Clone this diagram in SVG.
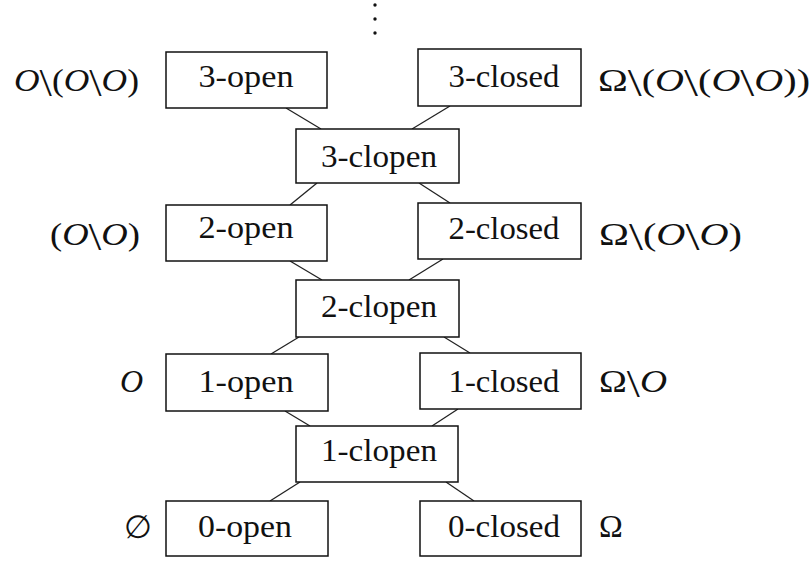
<svg xmlns="http://www.w3.org/2000/svg" width="812" height="561" viewBox="0 0 812 561">
<style>
.box{fill:#fff;stroke:#111;stroke-width:1.5}
.lbl{font-family:"Liberation Serif",serif;font-size:31px;fill:#111;text-anchor:middle}
.m{font-family:"Liberation Serif",serif;font-size:32px;fill:#111}
.i{font-style:italic}
.b{font-size:40px;baseline-shift:-5px}
#connectors line{stroke:#222;stroke-width:1.3}
</style>
<rect width="812" height="561" fill="#fff"/>
<g id="dots" fill="#111">
<circle cx="375" cy="5" r="1.7"/><circle cx="375" cy="19" r="1.7"/><circle cx="375" cy="33" r="1.7"/>
</g>
<g id="connectors">
<line x1="286" y1="108" x2="321" y2="129"/>
<line x1="450" y1="106" x2="412" y2="129"/>
<line x1="317" y1="183" x2="290" y2="205"/>
<line x1="419" y1="183" x2="450" y2="203"/>
<line x1="290" y1="261" x2="322" y2="280"/>
<line x1="443" y1="259" x2="409" y2="280"/>
<line x1="299" y1="337" x2="271" y2="354"/>
<line x1="444" y1="337" x2="470" y2="353"/>
<line x1="285" y1="411" x2="310" y2="426"/>
<line x1="458" y1="409" x2="432" y2="426"/>
<line x1="300" y1="482" x2="270" y2="501"/>
<line x1="446" y1="482" x2="474" y2="501"/>
</g>
<g id="n3open"><rect class="box" x="166" y="52" width="161" height="56"/><text class="lbl" x="246" y="87" textLength="95" lengthAdjust="spacingAndGlyphs">3-open</text></g>
<g id="n3closed"><rect class="box" x="418" y="49" width="163" height="57"/><text class="lbl" x="504" y="87" textLength="111" lengthAdjust="spacingAndGlyphs">3-closed</text></g>
<g id="n3clopen"><rect class="box" x="296" y="129" width="163" height="54"/><text class="lbl" x="379" y="167" textLength="116" lengthAdjust="spacingAndGlyphs">3-clopen</text></g>
<g id="n2open"><rect class="box" x="166" y="205" width="161" height="56"/><text class="lbl" x="246" y="238" textLength="95" lengthAdjust="spacingAndGlyphs">2-open</text></g>
<g id="n2closed"><rect class="box" x="418" y="203" width="163" height="56"/><text class="lbl" x="504" y="239" textLength="111" lengthAdjust="spacingAndGlyphs">2-closed</text></g>
<g id="n2clopen"><rect class="box" x="296" y="280" width="163" height="57"/><text class="lbl" x="379" y="317" textLength="116" lengthAdjust="spacingAndGlyphs">2-clopen</text></g>
<g id="n1open"><rect class="box" x="166" y="354" width="162" height="57"/><text class="lbl" x="246" y="392" textLength="95" lengthAdjust="spacingAndGlyphs">1-open</text></g>
<g id="n1closed"><rect class="box" x="420" y="353" width="161" height="56"/><text class="lbl" x="504" y="392" textLength="111" lengthAdjust="spacingAndGlyphs">1-closed</text></g>
<g id="n1clopen"><rect class="box" x="296" y="426" width="162" height="56"/><text class="lbl" x="379" y="461" textLength="116" lengthAdjust="spacingAndGlyphs">1-clopen</text></g>
<g id="n0open"><rect class="box" x="166" y="501" width="162" height="55"/><text class="lbl" x="245" y="537" textLength="94" lengthAdjust="spacingAndGlyphs">0-open</text></g>
<g id="n0closed"><rect class="box" x="420" y="501" width="161" height="55"/><text class="lbl" x="504" y="537" textLength="112" lengthAdjust="spacingAndGlyphs">0-closed</text></g>
<g id="labels">
<text class="m" x="14" y="91" textLength="125" lengthAdjust="spacingAndGlyphs"><tspan class="i">O</tspan><tspan class="b">\</tspan>(<tspan class="i">O</tspan><tspan class="b">\</tspan><tspan class="i">O</tspan>)</text>
<text class="m" x="50" y="245" textLength="90" lengthAdjust="spacingAndGlyphs">(<tspan class="i">O</tspan><tspan class="b">\</tspan><tspan class="i">O</tspan>)</text>
<text class="m i" x="120" y="392" font-size="35">O</text>
<text class="m" x="124" y="538" font-size="34">∅</text>
<text class="m" x="598" y="91" textLength="212" lengthAdjust="spacingAndGlyphs">Ω<tspan class="b">\</tspan>(<tspan class="i">O</tspan><tspan class="b">\</tspan>(<tspan class="i">O</tspan><tspan class="b">\</tspan><tspan class="i">O</tspan>))</text>
<text class="m" x="599" y="245" textLength="143" lengthAdjust="spacingAndGlyphs">Ω<tspan class="b">\</tspan>(<tspan class="i">O</tspan><tspan class="b">\</tspan><tspan class="i">O</tspan>)</text>
<text class="m" x="599" y="392" textLength="68" lengthAdjust="spacingAndGlyphs">Ω<tspan class="b">\</tspan><tspan class="i">O</tspan></text>
<text class="m" x="599" y="537" font-size="33">Ω</text>
</g>
</svg>
